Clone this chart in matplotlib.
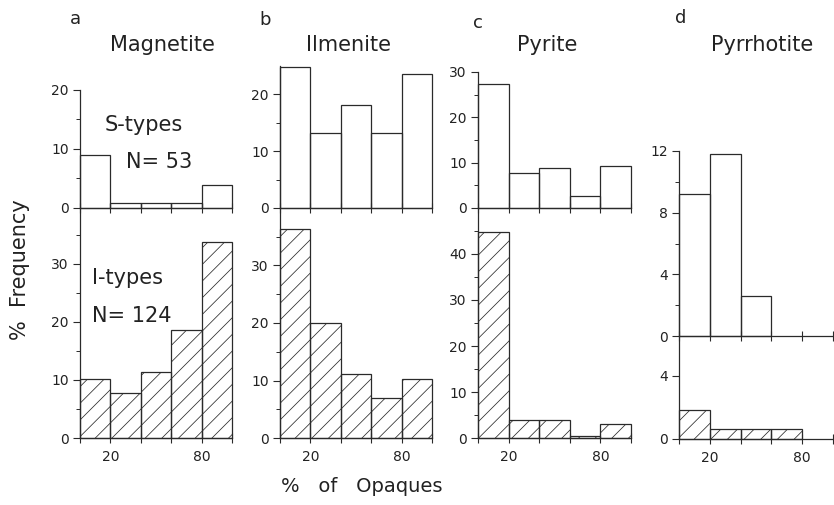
import numpy as np
import matplotlib
matplotlib.use("Agg")
import matplotlib.pyplot as plt
from matplotlib.ticker import FixedLocator

plt.rcParams['font.family'] = ['DejaVu Sans']
plt.rcParams['hatch.linewidth'] = 0.55
plt.rcParams['hatch.color'] = '#555555'

# % opaques bins (5 classes of 20 %)
bin_edges = [0, 20, 40, 60, 80, 100]

# % frequency per class, S-type (upper) and I-type (lower) granites
magnetite_s = [9.0, 0.8, 0.8, 0.8, 3.9]
magnetite_i = [10.2, 7.7, 11.4, 18.6, 33.8]
ilmenite_s = [24.8, 13.2, 18.2, 13.2, 23.6]
ilmenite_i = [36.3, 20.0, 11.1, 7.0, 10.3]
pyrite_s = [27.3, 7.7, 8.9, 2.6, 9.2]
pyrite_i = [44.8, 3.9, 3.9, 0.5, 3.0]
pyrrhotite_s = [9.2, 11.8, 2.6, 0.0, 0.0]
pyrrhotite_i = [1.85, 0.6, 0.6, 0.6, 0.0]

letters = ['a', 'b', 'c', 'd']
minerals = ['Magnetite', 'Ilmenite', 'Pyrite', 'Pyrrhotite']

W, H = 834, 505
fig = plt.figure(figsize=(W / 100, H / 100), dpi=100)
LC = '#2a2a2a'


def px_axes(x0, x1, ytop, ybot):
    return fig.add_axes([x0 / W, 1 - ybot / H, (x1 - x0) / W, (ybot - ytop) / H])


def style(ax, ymax, major, minor, xlabels):
    ax.set_xlim(0, 100)
    ax.set_ylim(0, ymax)
    ax.patch.set_alpha(0)
    for s in ['top', 'right']:
        ax.spines[s].set_visible(False)
    for s in ['left', 'bottom']:
        ax.spines[s].set_color(LC)
        ax.spines[s].set_linewidth(0.9)
    ax.set_xticks(bin_edges)
    ax.set_xticklabels(['', '20', '', '', '80', ''] if xlabels else [])
    ax.tick_params(axis='x', direction='inout', length=7, width=0.8,
                   color=LC, labelsize=10, labelcolor='#222', pad=5)
    ax.yaxis.set_major_locator(FixedLocator(major))
    ax.yaxis.set_major_formatter(plt.FixedFormatter([str(v) for v in major]))
    if minor:
        ax.yaxis.set_minor_locator(FixedLocator(minor))
    ax.tick_params(axis='y', which='major', direction='out', length=5,
                   width=0.8, color=LC, labelsize=10, labelcolor='#222', pad=3)
    ax.tick_params(axis='y', which='minor', direction='out', length=3,
                   width=0.7, color=LC)


def draw(ax, values, hatched):
    widths = np.diff(bin_edges)
    lefts = np.array(bin_edges[:-1])
    for x, w, v in zip(lefts, widths, values):
        if v <= 0:
            continue
        ax.bar(x, v, width=w, align='edge', facecolor='none', edgecolor=LC,
               linewidth=0.9, hatch='//' if hatched else None, clip_on=False)


# (x0, x1, top_ytop, zero_top, zero_bottom, ymax_top, ymax_bottom)
layout = [
    (80, 232, 90, 208, 438, 20, 39.6),
    (280, 432, 66, 208, 438, 25, 40),
    (478, 631, 72, 208, 438, 30, 50),
    (679, 833, 151, 336, 439, 12, 6.5),
]
upper = [magnetite_s, ilmenite_s, pyrite_s, pyrrhotite_s]
lower = [magnetite_i, ilmenite_i, pyrite_i, pyrrhotite_i]
upper_ticks = [
    ([0, 10, 20], [5, 15]),
    ([0, 10, 20], [5, 15]),
    ([0, 10, 20, 30], [5, 15, 25]),
    ([0, 4, 8, 12], [2, 6, 10]),
]
lower_ticks = [
    ([0, 10, 20, 30], [5, 15, 25, 35]),
    ([0, 10, 20, 30], [5, 15, 25, 35]),
    ([0, 10, 20, 30, 40], [5, 15, 25, 35, 45]),
    ([0, 4], []),
]

for i, (x0, x1, yt, z1, z2, m1, m2) in enumerate(layout):
    ax_top = px_axes(x0, x1, yt, z1)
    style(ax_top, m1, *upper_ticks[i], xlabels=False)
    draw(ax_top, upper[i], hatched=False)
    ax_bot = px_axes(x0, x1, z1, z2)
    style(ax_bot, m2, *lower_ticks[i], xlabels=True)
    draw(ax_bot, lower[i], hatched=True)


def ftext(x, y, s, **kw):
    kw.setdefault('color', '#222')
    fig.text(x / W, 1 - y / H, s, **kw)


for (lx, ly), (tx, ty), let, name in zip(
        [(75, 19), (265, 20), (478, 23), (681, 18)],
        [(162, 45), (348, 45), (547, 45), (762, 45)], letters, minerals):
    ftext(lx, ly, let, fontsize=13, ha='center', va='center')
    ftext(tx, ty, name, fontsize=15, ha='center', va='center')

ftext(105, 125, 'S-types', fontsize=15, ha='left', va='center')
ftext(126, 162, 'N= 53', fontsize=15, ha='left', va='center')
ftext(92, 278, 'I-types', fontsize=15, ha='left', va='center')
ftext(92, 316, 'N= 124', fontsize=15, ha='left', va='center')
ftext(20, 270, '%  Frequency', fontsize=15, ha='center', va='center',
      rotation=90)
ftext(362, 487, '%   of   Opaques', fontsize=14, ha='center', va='center')

fig.savefig('out.png', dpi=100, facecolor='white')
